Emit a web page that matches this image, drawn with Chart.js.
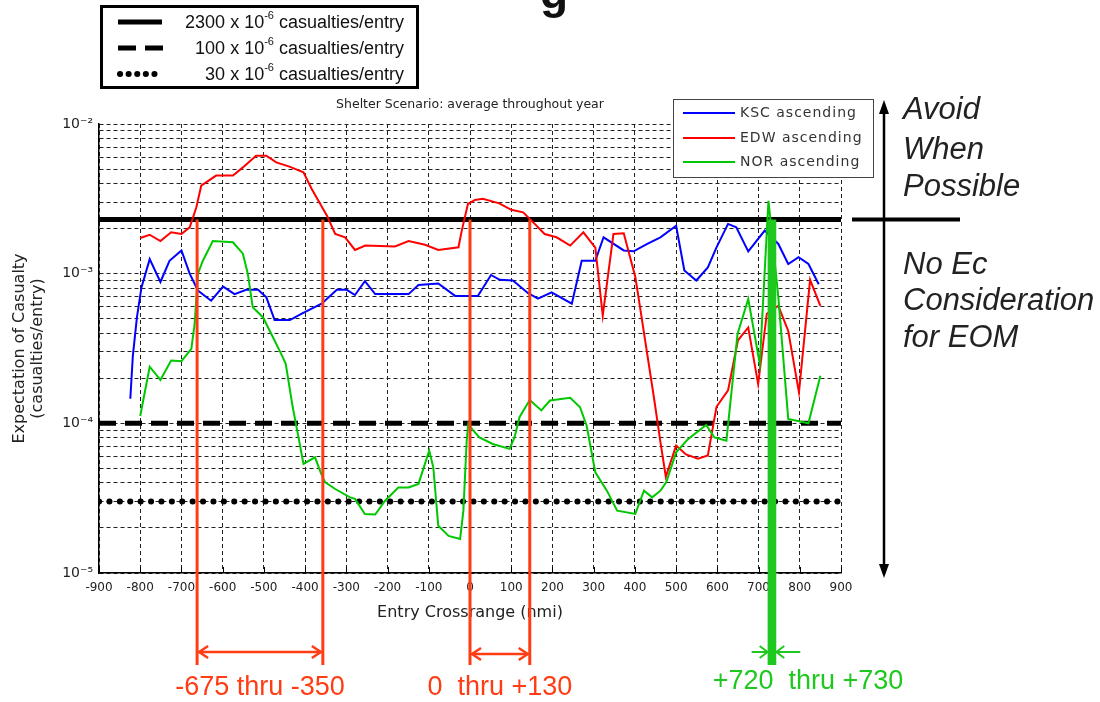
<!DOCTYPE html>
<html>
<head>
<meta charset="utf-8">
<script src="https://cdn.jsdelivr.net/npm/chart.js@4.4.1/dist/chart.umd.min.js"></script>
<style>
  html, body { margin: 0; padding: 0; background: #fff; }
  #wrap { width: 1100px; height: 702px; }
</style>
</head>
<body>
<div id="wrap"><canvas id="casualtyChart" width="1100" height="702"></canvas></div>
<script>
// Entry crossrange (nmi) and expectation of casualty per series
const kscX = [-824, -818, -808, -797, -777, -751, -729, -700, -680, -660, -628, -599, -571, -543, -514, -494, -474, -437, -408, -360,
  -323, -299, -279, -255, -230, -149, -125, -77, -36, 19, 51, 72, 104, 141, 165, 198, 247, 271, 304, 324,
  373, 397, 430, 462, 500, 520, 549, 577, 598, 626, 646, 675, 715, 748, 772, 797, 821, 846];
const kscY = [1.46e-4, 2.8e-4, 5.1e-4, 8.1e-4, 1.25e-3, 8.8e-4, 1.22e-3, 1.43e-3, 1.0e-3, 7.7e-4, 6.6e-4, 8.2e-4, 7.3e-4, 7.8e-4, 7.8e-4, 6.95e-4, 4.9e-4, 4.9e-4, 5.4e-4, 6.3e-4,
  7.8e-4, 7.8e-4, 7.2e-4, 8.9e-4, 7.3e-4, 7.3e-4, 8.4e-4, 8.6e-4, 7.1e-4, 7.1e-4, 9.8e-4, 9.1e-4, 9.0e-4, 7.4e-4, 6.8e-4, 7.5e-4, 6.3e-4, 1.22e-3, 1.22e-3, 1.75e-3,
  1.43e-3, 1.41e-3, 1.58e-3, 1.75e-3, 2.09e-3, 1.05e-3, 9.0e-4, 1.1e-3, 1.5e-3, 2.15e-3, 2.04e-3, 1.41e-3, 1.94e-3, 1.58e-3, 1.16e-3, 1.29e-3, 1.16e-3, 8.5e-4];

const edwX = [-800, -777, -751, -725, -700, -680, -664, -652, -616, -575, -551, -519, -494, -470, -438, -404, -384, -347, -327, -303,
  -279, -254, -182, -149, -109, -77, -28, -20, -5, 12, 31, 71, 100, 129, 157, 181, 210, 243, 275, 304,
  322, 348, 373, 401, 406, 446, 462, 475, 500, 524, 553, 577, 598, 626, 650, 675, 699, 720, 748, 772,
  798, 825, 850];
const edwY = [1.73e-3, 1.82e-3, 1.65e-3, 1.89e-3, 1.84e-3, 2.04e-3, 2.77e-3, 3.87e-3, 4.52e-3, 4.52e-3, 5.13e-3, 6.14e-3, 6.14e-3, 5.54e-3, 5.19e-3, 4.75e-3, 3.68e-3, 2.44e-3, 1.84e-3, 1.75e-3,
  1.44e-3, 1.54e-3, 1.52e-3, 1.65e-3, 1.56e-3, 1.44e-3, 1.5e-3, 1.94e-3, 2.92e-3, 3.11e-3, 3.16e-3, 2.95e-3, 2.67e-3, 2.57e-3, 2.15e-3, 1.84e-3, 1.75e-3, 1.54e-3, 1.89e-3, 1.49e-3,
  5.24e-4, 1.84e-3, 1.86e-3, 9.5e-4, 7.8e-4, 1.5e-4, 7.5e-5, 4.4e-5, 7.1e-5, 6.2e-5, 5.8e-5, 6.1e-5, 1.29e-4, 1.66e-4, 3.59e-4, 4.37e-4, 1.83e-4, 5.4e-4, 6.1e-4, 4.14e-4,
  1.61e-4, 9.1e-4, 6.1e-4];

const norX = [-800, -777, -751, -725, -700, -676, -668, -660, -648, -624, -575, -551, -539, -527, -502, -478, -454, -447, -430, -416,
  -404, -376, -361, -351, -327, -291, -279, -255, -230, -206, -174, -149, -125, -99, -89, -77, -52, -24, -16, -8,
  -4, 8, 23, 55, 96, 108, 120, 145, 173, 194, 243, 267, 283, 304, 332, 357, 401, 422, 442, 462,
  476, 500, 528, 573, 593, 622, 649, 675, 703, 715, 724, 748, 772, 821, 850];
const norY = [1.12e-4, 2.39e-4, 1.95e-4, 2.63e-4, 2.6e-4, 3.14e-4, 4.61e-4, 1.0e-3, 1.22e-3, 1.65e-3, 1.62e-3, 1.36e-3, 1.0e-3, 5.96e-4, 5.1e-4, 3.76e-4, 2.76e-4, 2.5e-4, 1.28e-4, 8.05e-5,
  5.35e-5, 5.93e-5, 4.59e-5, 4.03e-5, 3.64e-5, 3.2e-5, 3.13e-5, 2.48e-5, 2.46e-5, 3.04e-5, 3.73e-5, 3.73e-5, 3.94e-5, 6.56e-5, 5.08e-5, 2.07e-5, 1.77e-5, 1.69e-5, 2.61e-5, 7.66e-5,
  1.0e-4, 8.93e-5, 8.05e-5, 7.28e-5, 6.75e-5, 8.05e-5, 1.1e-4, 1.43e-4, 1.22e-4, 1.42e-4, 1.48e-4, 1.28e-4, 9.64e-5, 4.71e-5, 3.55e-5, 2.61e-5, 2.48e-5, 3.55e-5, 3.2e-5, 3.55e-5,
  4.03e-5, 6.4e-5, 7.8e-5, 9.75e-5, 8.05e-5, 7.66e-5, 3.95e-4, 6.77e-4, 2.49e-4, 1.05e-3, 3.07e-3, 6.95e-4, 1.07e-4, 1.0e-4, 2.08e-4];

const seriesLabels = ['KSC ascending', 'EDW ascending', 'NOR ascending'];

// threshold levels (casualties/entry) and their x-extent
const refLevels = [2300e-6, 100e-6, 30e-6];
const refCoef = ['2300', '100', '30'];
const refXRange = [-900, 900];

// crossrange bands marked under the plot (positions as drawn) and their captions
const redBands = [[-662, -357], [0, 145]];
const redCaptions = ['-675 thru -350', '0  thru +130'];
const greenBand = [722, 743];
const greenCaption = '+720  thru +730';

const yDecades = [-5, -4, -3, -2];

const ANN_RED = '#ff3c14';
const ANN_GREEN = '#1ec81e';
const TXT = '#222';

function pts(xs, ys) {
  return xs.map((x, i) => ({ x: x, y: ys[i] }));
}

const SUP = { '-': '\u207B', '0': '\u2070', '1': '\u00B9', '2': '\u00B2', '3': '\u00B3', '4': '\u2074', '5': '\u2075', '6': '\u2076', '7': '\u2077', '8': '\u2078', '9': '\u2079' };
function supText(s) {
  return String(s).split('').map(c => SUP[c] || c).join('');
}

// ---- helpers for the drawn overlays ----
function vline(ctx, x, y1, y2) {
  ctx.beginPath(); ctx.moveTo(x, y1); ctx.lineTo(x, y2); ctx.stroke();
}
function chevron(ctx, x, y, dir, len, h) {
  ctx.beginPath();
  ctx.moveTo(x - dir * len, y - h);
  ctx.lineTo(x, y);
  ctx.lineTo(x - dir * len, y + h);
  ctx.stroke();
}
function richRight(ctx, parts, xRight, y, size, family) {
  // parts: [text, isSuperscript]
  let total = 0;
  parts.forEach(p => {
    ctx.font = (p[1] ? Math.round(size * 0.62) : size) + 'px ' + family;
    total += ctx.measureText(p[0]).width;
  });
  let x = xRight - total;
  ctx.textAlign = 'left';
  parts.forEach(p => {
    ctx.font = (p[1] ? Math.round(size * 0.62) : size) + 'px ' + family;
    ctx.fillText(p[0], x, p[1] ? y - size * 0.38 : y);
    x += ctx.measureText(p[0]).width;
  });
}

const overlay = {
  id: 'overlay',
  afterDraw(chart) {
    const ctx = chart.ctx;
    const sx = chart.scales.x, sy = chart.scales.y;
    const area = chart.chartArea;
    const yCap = sy.getPixelForValue(refLevels[0]);
    const yFoot = 665;

    ctx.save();

    // small inward tick marks on the bottom axis
    ctx.strokeStyle = '#000';
    ctx.lineWidth = 1;
    sx.ticks.forEach(t => {
      const px = Math.round(sx.getPixelForValue(t.value)) + 0.5;
      vline(ctx, px, area.bottom, area.bottom - 6);
    });

    // red crossrange bands
    ctx.strokeStyle = ANN_RED;
    ctx.lineWidth = 3;
    redBands.forEach((b, k) => {
      const a = sx.getPixelForValue(b[0]);
      const c = sx.getPixelForValue(b[1]);
      vline(ctx, a, yCap, yFoot);
      vline(ctx, c, yCap, yFoot);
      const ay = 652 + k * 2;
      ctx.lineWidth = 2.5;
      ctx.beginPath(); ctx.moveTo(a + 2, ay); ctx.lineTo(c - 2, ay); ctx.stroke();
      chevron(ctx, a + 2, ay, -1, 9, 6);
      chevron(ctx, c - 2, ay, 1, 9, 6);
      ctx.lineWidth = 3;
    });

    // green band
    const g0 = sx.getPixelForValue(greenBand[0]);
    const g1 = sx.getPixelForValue(greenBand[1]);
    ctx.fillStyle = ANN_GREEN;
    ctx.fillRect(g0, yCap, g1 - g0, yFoot - yCap);
    ctx.strokeStyle = ANN_GREEN;
    ctx.lineWidth = 2;
    ctx.beginPath(); ctx.moveTo(g0 - 16, 652); ctx.lineTo(g0, 652); ctx.stroke();
    chevron(ctx, g0, 652, 1, 8, 6);
    ctx.beginPath(); ctx.moveTo(g1, 652); ctx.lineTo(g1 + 24, 652); ctx.stroke();
    chevron(ctx, g1, 652, -1, 8, 6);

    // captions under the bands
    ctx.textBaseline = 'middle';
    ctx.textAlign = 'center';
    ctx.font = '27px "Liberation Sans"';
    ctx.fillStyle = ANN_RED;
    redBands.forEach((b, k) => {
      const mid = (sx.getPixelForValue(b[0]) + sx.getPixelForValue(b[1])) / 2;
      ctx.fillText(redCaptions[k], mid, 688);
    });
    ctx.fillStyle = ANN_GREEN;
    ctx.fillText(greenCaption, 808, 682);

    // right-hand decision annotation
    ctx.strokeStyle = '#000';
    ctx.fillStyle = '#000';
    ctx.lineWidth = 2.5;
    vline(ctx, 884, 112, 566);
    ctx.beginPath(); ctx.moveTo(884, 100); ctx.lineTo(879, 114); ctx.lineTo(889, 114); ctx.closePath(); ctx.fill();
    ctx.beginPath(); ctx.moveTo(884, 578); ctx.lineTo(879, 564); ctx.lineTo(889, 564); ctx.closePath(); ctx.fill();
    ctx.lineWidth = 4;
    ctx.beginPath(); ctx.moveTo(852, yCap); ctx.lineTo(960, yCap); ctx.stroke();

    ctx.fillStyle = TXT;
    ctx.textAlign = 'left';
    ctx.font = 'italic 31px "Liberation Sans"';
    [['Avoid', 110], ['When', 150], ['Possible', 187], ['No Ec', 265], ['Consideration', 301], ['for EOM', 338]]
      .forEach(r => ctx.fillText(r[0], 903, r[1]));

    // threshold legend (top left)
    ctx.fillStyle = '#fff';
    ctx.fillRect(101, 6, 316, 81);
    ctx.strokeStyle = '#000';
    ctx.lineWidth = 3;
    ctx.strokeRect(101.5, 6.5, 316, 81);
    const rowY = [22, 48, 74];
    ctx.lineWidth = 5;
    ctx.setLineDash([]);
    ctx.beginPath(); ctx.moveTo(118, rowY[0]); ctx.lineTo(162, rowY[0]); ctx.stroke();
    ctx.setLineDash([18, 9]);
    ctx.beginPath(); ctx.moveTo(118, rowY[1]); ctx.lineTo(163, rowY[1]); ctx.stroke();
    ctx.lineWidth = 6;
    ctx.setLineDash([0.1, 8.5]);
    ctx.lineCap = 'round';
    ctx.beginPath(); ctx.moveTo(120, rowY[2]); ctx.lineTo(160, rowY[2]); ctx.stroke();
    ctx.setLineDash([]);
    ctx.lineCap = 'butt';
    ctx.fillStyle = '#111';
    ctx.textBaseline = 'middle';
    refCoef.forEach((c, i) => {
      richRight(ctx, [[c + ' x 10', false], ['-6', true], [' casualties/entry', false]], 404, rowY[i] + 1, 18, '"Liberation Sans"');
    });

    // series legend (inside plot, top right)
    ctx.fillStyle = '#fff';
    ctx.fillRect(673, 99, 200, 78);
    ctx.strokeStyle = '#444';
    ctx.lineWidth = 1;
    ctx.strokeRect(673.5, 99.5, 200, 78);
    const legY = [113, 138, 162];
    chart.data.datasets.slice(0, 3).forEach((ds, i) => {
      ctx.strokeStyle = ds.borderColor;
      ctx.lineWidth = 2;
      ctx.beginPath(); ctx.moveTo(683, legY[i]); ctx.lineTo(735, legY[i]); ctx.stroke();
      ctx.fillStyle = '#333';
      ctx.font = '14px "DejaVu Sans"';
      ctx.letterSpacing = '1px';
      ctx.textAlign = 'left';
      ctx.fillText(ds.label, 740, legY[i]);
      ctx.letterSpacing = '0px';
    });

    // cut-off slide heading letter at the very top
    ctx.fillStyle = '#111';
    ctx.font = 'bold 46px "Liberation Sans"';
    ctx.textBaseline = 'alphabetic';
    ctx.fillText('g', 540, 8);

    ctx.restore();
  }
};

const curveColors = ['#0000ff', '#ff0000', '#00c800'];
const curveData = [pts(kscX, kscY), pts(edwX, edwY), pts(norX, norY)];

const datasets = curveData.map((d, i) => ({
  label: seriesLabels[i],
  data: d,
  borderColor: curveColors[i],
  borderWidth: 2,
  order: 3 - i
}));

const refStyles = [
  { borderDash: [], borderCapStyle: 'butt', borderWidth: 5 },
  { borderDash: [17, 9], borderCapStyle: 'butt', borderWidth: 5 },
  { borderDash: [0.1, 10.3], borderCapStyle: 'round', borderWidth: 6 }
];
refLevels.forEach((lvl, i) => {
  datasets.push(Object.assign({
    label: refCoef[i] + ' x 10-6 casualties/entry',
    data: refXRange.map(x => ({ x: x, y: lvl })),
    borderColor: '#000',
    order: 4 + i
  }, refStyles[i]));
});

new Chart(document.getElementById('casualtyChart'), {
  type: 'line',
  data: { datasets: datasets },
  options: {
    responsive: false,
    animation: false,
    devicePixelRatio: 1,
    elements: {
      point: { radius: 0 },
      line: { tension: 0, fill: false }
    },
    layout: { padding: { top: 97, right: 259, left: 0, bottom: 0 } },
    plugins: {
      legend: { display: false },
      tooltip: { enabled: false },
      title: {
        display: true,
        fullSize: false,
        text: 'Shelter Scenario: average throughout year',
        color: TXT,
        font: { family: 'DejaVu Sans', size: 12.5, weight: 'normal', lineHeight: 1.2 },
        padding: { top: 0, bottom: 12 }
      }
    },
    scales: {
      x: {
        type: 'linear',
        min: -900,
        max: 900,
        ticks: {
          stepSize: 100,
          autoSkip: false,
          maxRotation: 0,
          padding: 8,
          color: TXT,
          font: { family: 'DejaVu Sans', size: 12 }
        },
        grid: { color: '#222', lineWidth: 1, drawTicks: false },
        border: { display: true, color: '#000', width: 1.5, dash: [4, 3] },
        title: {
          display: true,
          text: 'Entry Crossrange (nmi)',
          color: TXT,
          font: { family: 'DejaVu Sans', size: 16, lineHeight: 1.125 },
          padding: { top: 0, bottom: 80 }
        },
        afterFit: s => { s.height = 129; }
      },
      y: {
        type: 'logarithmic',
        min: 1e-5,
        max: 1e-2,
        afterBuildTicks: s => {
          const t = [];
          for (let e = yDecades[0]; e < yDecades[yDecades.length - 1]; e++) {
            for (let m = 1; m <= 9; m++) t.push({ value: m * Math.pow(10, e) });
          }
          t.push({ value: Math.pow(10, yDecades[yDecades.length - 1]) });
          s.ticks = t;
        },
        ticks: {
          autoSkip: false,
          padding: 6,
          color: TXT,
          font: { family: 'DejaVu Sans', size: 14 },
          callback: (v, i) => (i % 9 === 0 ? '10' + supText(Math.round(Math.log10(v))) : '')
        },
        grid: { color: '#222', lineWidth: 1, drawTicks: false },
        border: { display: true, color: '#000', width: 1.5, dash: [4, 3] },
        title: {
          display: true,
          text: ['Expectation of Casualty', '(casualties/entry)'],
          color: TXT,
          font: { family: 'DejaVu Sans', size: 16, lineHeight: 1.125 },
          padding: { top: 11, bottom: 0 }
        },
        afterFit: s => { s.width = 99; }
      }
    }
  },
  plugins: [overlay]
});
</script>
</body>
</html>
